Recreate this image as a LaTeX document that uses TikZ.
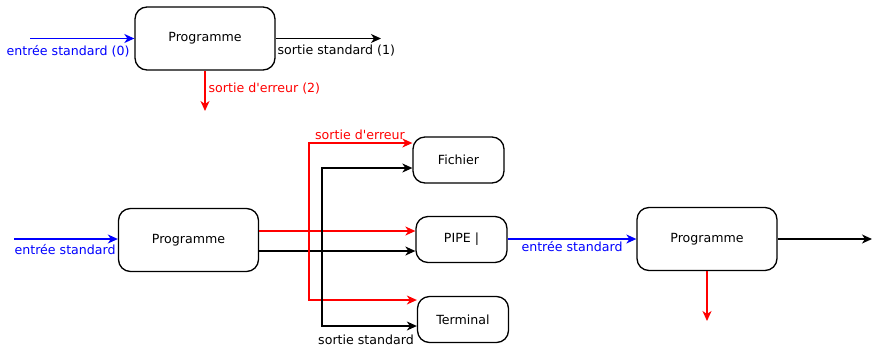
\documentclass[tikz,border=0pt]{standalone}
\usepackage{fontspec}
\setmainfont{DejaVu Sans}
\usetikzlibrary{arrows.meta}

\begin{document}
\begin{tikzpicture}[x=1pt, y=-1pt, line width=1.3pt, >={Stealth[length=10pt,width=9pt,inset=3pt]},
  prog/.style={draw, rounded corners=12pt, minimum width=140pt, minimum height=63pt, font=\fontsize{12.6}{14}\selectfont},
  dest/.style={draw, rounded corners=12pt, minimum width=91pt, minimum height=46pt, font=\fontsize{12.6}{14}\selectfont},
  lbl/.style={inner sep=0pt, font=\fontsize{12.6}{14}\selectfont}]
\useasboundingbox (0,0) rectangle (872,346);
% un seul programme
\node[prog] (p1) at (205,38.5) {Programme};
\coordinate (in1) at (30,38.5);
\coordinate (out1) at (381,38.5);
\coordinate (err1) at (205,111);
\draw[->, blue] (in1) -- (p1.west);
\draw[->] (p1.east) -- (out1);
\draw[->, red] (p1.south) -- (err1);
\node[lbl, blue, anchor=west] (lin1) at (6,51) {entrée standard (0)};
\node[lbl, anchor=west] (lout1) at (277,51) {sortie standard (1)};
\node[lbl, red, anchor=west] (lerr1) at (208,89) {sortie d\textquotesingle erreur (2)};
% redirections
\node[prog] (p2) at (188.5,240) {Programme};
\node[dest] (fic) at (458.5,160) {Fichier};
\node[dest] (pipe) at (461.5,239.5) {PIPE |};
\node[dest] (term) at (463,319.5) {Terminal};
\node[prog] (p3) at (707,239) {Programme};
\coordinate (in2) at (14,239);
\draw[->, blue] (in2) -- (p2.west |- in2);
\node[lbl, blue, anchor=west] (lin2) at (14,250) {entrée standard};
\draw[->, red] (p2.east |- 0,231) -- (pipe.west |- 0,231);
\draw[->] (p2.east |- 0,251) -- (pipe.west |- 0,251);
\coordinate (rtop) at (309,143);
\coordinate (rbot) at (309,300);
\draw[<->, red] (fic.west |- rtop) -- (rtop) -- (rbot) -- (term.west |- rbot);
\coordinate (ntop) at (322,168);
\coordinate (nbot) at (322,326);
\draw[<->] (fic.west |- ntop) -- (ntop) -- (nbot) -- (term.west |- nbot);
\node[lbl, red] (lerr2) at (360,135) {sortie d\textquotesingle erreur};
\node[lbl] (lout2) at (366,339.5) {sortie standard};
% tube
\draw[->, blue] (pipe.east |- p3.west) -- (p3.west);
\node[lbl, blue] (lin3) at (572,247) {entrée standard};
\coordinate (out3) at (872,239);
\coordinate (err3) at (707,321);
\draw[->] (p3.east) -- (out3);
\draw[->, red] (p3.south) -- (err3);
\end{tikzpicture}
\end{document}
